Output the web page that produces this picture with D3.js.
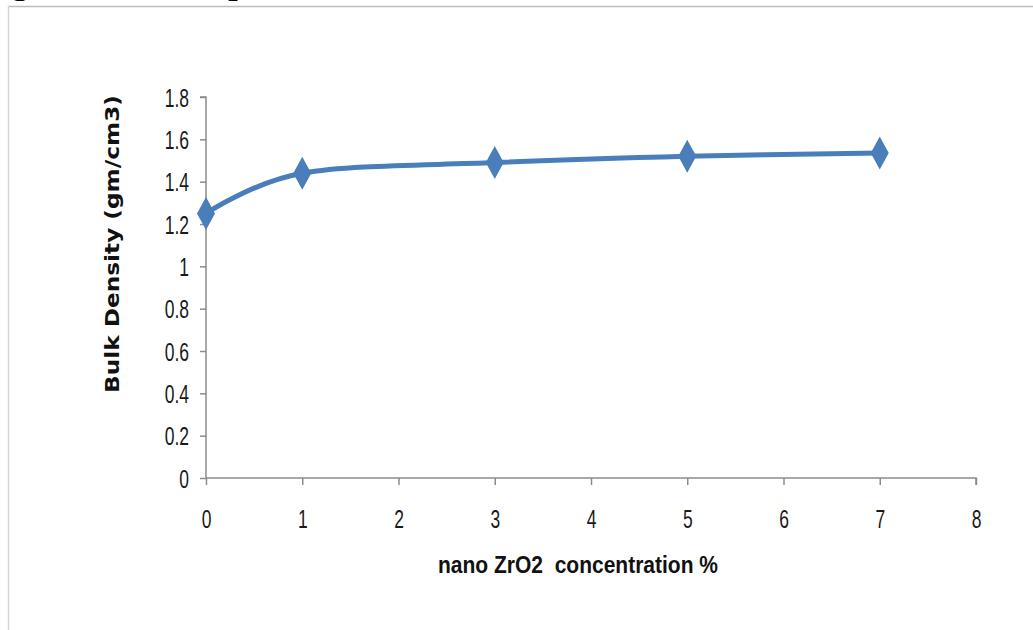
<!doctype html>
<html lang="en">
<head>
    <meta charset="UTF-8">
    <title>Bulk Density vs nano ZrO2</title>
    <style>
        body { margin: 0; background: #fff; }
        svg { display: block; }
    </style>
</head>
<body>
<div class="canvas"></div>

<script src="https://d3js.org/d3.v7.min.js"></script>
<script>
    // data
    const concentration = [0, 1, 3, 5, 7];
    const bulkDensity = [1.25, 1.44, 1.49, 1.52, 1.535];
    const xTicks = [0, 1, 2, 3, 4, 5, 6, 7, 8];
    const yTicks = [0, 0.2, 0.4, 0.6, 0.8, 1, 1.2, 1.4, 1.6, 1.8];

    const svgWidth = 1033;
    const svgHeight = 630;
    const margin = { top: 97, right: 57, bottom: 152, left: 206 };
    const graphWidth = svgWidth - margin.left - margin.right;
    const graphHeight = svgHeight - margin.top - margin.bottom;

    const blue = '#4a7ebb';
    const axisGrey = '#8c8c8c';
    const sans = '"Liberation Sans", Arial, sans-serif';
    const squeeze = 0.7; // narrow look of the original labels

    const svg = d3.select('.canvas').append('svg')
        .attr('width', svgWidth)
        .attr('height', svgHeight);

    // cropped caption of the page above + frame
    svg.append('text')
        .attr('x', 10).attr('y', -8.5)
        .attr('font-family', '"Liberation Serif", serif')
        .attr('font-size', 40)
        .text('g');
    svg.append('text')
        .attr('x', 228).attr('y', -8.5)
        .attr('font-family', '"Liberation Serif", serif')
        .attr('font-size', 40)
        .text('p');
    svg.append('line')
        .attr('x1', 8).attr('x2', svgWidth).attr('y1', 6.5).attr('y2', 6.5)
        .attr('stroke', '#bdbdbd').attr('stroke-width', 1.5);
    svg.append('line')
        .attr('x1', 8.5).attr('x2', 8.5).attr('y1', 6).attr('y2', svgHeight)
        .attr('stroke', '#d6d6d6').attr('stroke-width', 1.5);

    const graph = svg.append('g')
        .attr('transform', `translate(${margin.left}, ${margin.top})`);

    const x = d3.scaleLinear().domain([0, 8]).range([0, graphWidth]);
    const y = d3.scaleLinear().domain([0, 1.8]).range([graphHeight, 0]);

    const xAxis = d3.axisBottom(x)
        .tickValues(xTicks)
        .tickSize(7)
        .tickFormat(d => String(d));
    const yAxis = d3.axisLeft(y)
        .tickValues(yTicks)
        .tickSize(6)
        .tickFormat(d => String(+d.toFixed(1)));

    const xAxisGroup = graph.append('g')
        .attr('transform', `translate(0, ${graphHeight})`)
        .call(xAxis);
    const yAxisGroup = graph.append('g').call(yAxis);

    [xAxisGroup, yAxisGroup].forEach(g => {
        g.selectAll('path, line').attr('stroke', axisGrey).attr('stroke-width', 1.5);
        g.select('.domain').attr('d', g === xAxisGroup
            ? `M0,0H${graphWidth}V7`
            : `M0,${graphHeight}V0H-6`);
        g.selectAll('text')
            .attr('font-family', sans)
            .attr('font-size', 25)
            .attr('fill', '#1a1a1a');
    });
    // place labels then squeeze them horizontally
    yAxisGroup.selectAll('text')
        .attr('x', 0).attr('dy', '0.36em')
        .attr('transform', `translate(-17,0) scale(${squeeze},1)`);
    xAxisGroup.selectAll('text')
        .attr('y', 0).attr('dy', '0.36em')
        .attr('transform', `translate(0,40.5) scale(${squeeze},1)`);

    // smoothed line like Excel
    const points = concentration.map((c, i) => [c, bulkDensity[i]]);
    const line = d3.line()
        .x(d => x(d[0]))
        .y(d => y(d[1]))
        .curve(d3.curveCardinal.tension(0));

    graph.append('path')
        .datum(points)
        .attr('d', line)
        .attr('fill', 'none')
        .attr('stroke', blue)
        .attr('stroke-width', 5)
        .attr('stroke-linejoin', 'round');

    // tall diamond markers
    const hw = 9, hh = 16.5;
    graph.selectAll('.marker')
        .data(points)
        .enter()
        .append('path')
        .attr('class', 'marker')
        .attr('d', d => {
            const cx = x(d[0]), cy = y(d[1]);
            return `M${cx},${cy - hh}L${cx + hw},${cy}L${cx},${cy + hh}L${cx - hw},${cy}Z`;
        })
        .attr('fill', blue);

    // axis titles
    svg.append('text')
        .attr('x', 438).attr('y', 573)
        .attr('font-family', sans)
        .attr('font-weight', 'bold')
        .attr('font-size', 23)
        .attr('fill', '#111')
        .attr('textLength', 280)
        .attr('lengthAdjust', 'spacingAndGlyphs')
        .style('white-space', 'pre')
        .text('nano ZrO2  concentration %');

    svg.append('text')
        .attr('transform', 'translate(119, 393) rotate(-90)')
        .attr('font-family', '"DejaVu Sans", sans-serif')
        .attr('font-weight', 'bold')
        .attr('font-size', 19)
        .attr('fill', '#111')
        .attr('textLength', 298)
        .attr('lengthAdjust', 'spacingAndGlyphs')
        .text('Bulk Density (gm/cm3)');
</script>
</body>
</html>
